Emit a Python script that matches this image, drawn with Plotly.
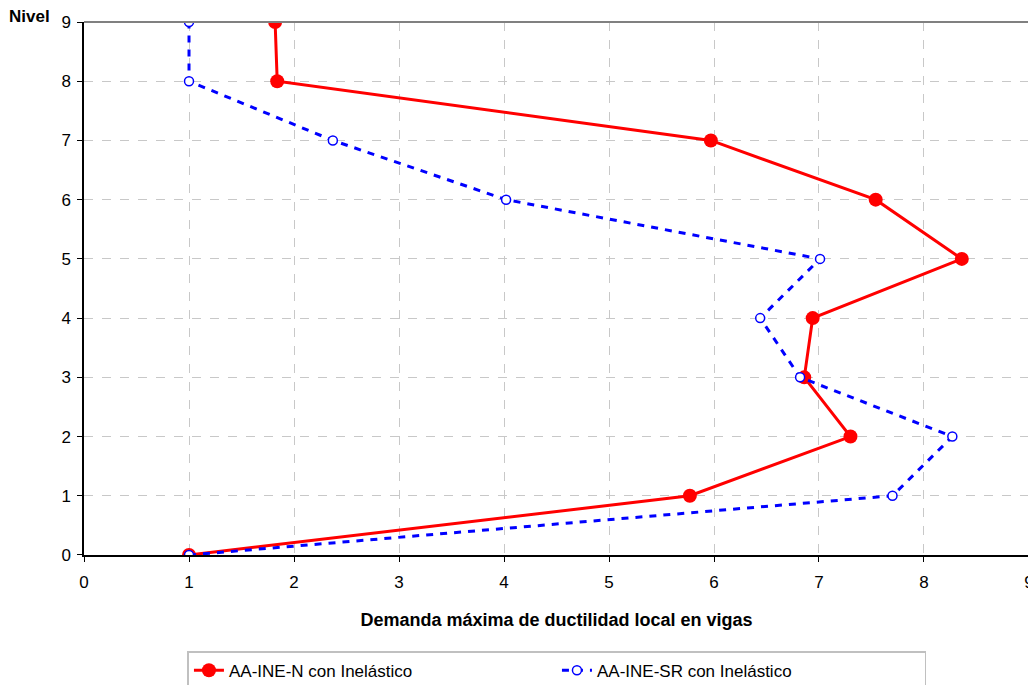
import plotly.graph_objects as go

niveles = [0, 1, 2, 3, 4, 5, 6, 7, 8, 9]
ductilidad_n = [1.0, 5.77, 7.30, 6.86, 6.94, 8.36, 7.54, 5.97, 1.84, 1.82]
ductilidad_sr = [1.0, 7.70, 8.27, 6.82, 6.44, 7.01, 4.02, 2.37, 1.0, 1.0]

fig = go.Figure()

fig.add_trace(go.Scatter(
    x=ductilidad_n, y=niveles, mode="lines+markers",
    name="AA-INE-N con Inelástico",
    line=dict(color="#ff0000", width=3),
    marker=dict(color="#ff0000", size=14, symbol="circle"),
))

fig.add_trace(go.Scatter(
    x=ductilidad_sr, y=niveles, mode="lines+markers",
    name="AA-INE-SR con Inelástico",
    line=dict(color="#0000ff", width=3, dash="7px,7px"),
    marker=dict(color="white", size=9, symbol="circle",
                line=dict(color="#0000ff", width=1.5)),
))

fam = "Liberation Sans, Arial"
font = dict(family=fam, size=17, color="black")

axis_common = dict(
    range=[-0.0001, 9.0001], dtick=1, showgrid=True,
    gridcolor="#c8c8c8", griddash="dash", gridwidth=1,
    ticks="outside", ticklen=5, tickcolor="black",
    tickfont=font, automargin=False, ticklabeloverflow="allow",
    zeroline=False, showline=True, linecolor="black", linewidth=1.5,
)

fig.update_xaxes(**axis_common, ticklabelstandoff=6,
                 title=dict(text="<b>Demanda máxima de ductilidad local en vigas</b>",
                            font=dict(family=fam, size=18, color="black"), standoff=22))
fig.update_yaxes(**axis_common, ticklabelstandoff=3)

# grey frame on top and right of the plot area
fig.add_shape(type="line", xref="paper", yref="paper", x0=0, x1=1, y0=1, y1=1,
              line=dict(color="#808080", width=2))
fig.add_shape(type="line", xref="paper", yref="paper", x0=1, x1=1, y0=0, y1=1,
              line=dict(color="#a0a0a0", width=2))

fig.add_annotation(text="<b>Nivel</b>", xref="paper", yref="paper",
                   x=-0.034, y=1.011, xanchor="right", yanchor="middle",
                   showarrow=False, font=dict(family=fam, size=17, color="black"))

# the page adds an 8px body margin, so the figure is made 8px smaller
fig.update_layout(
    width=1028, height=677,
    margin=dict(l=76, r=7, t=14, b=130),
    plot_bgcolor="white", paper_bgcolor="white",
    font=font,
    legend=dict(orientation="h", xref="container", yref="container",
                x=0.534, xanchor="center", y=0.05, yanchor="top",
                bordercolor="#c0c0c0", borderwidth=1.5, entrywidth=323,
                font=font),
)

fig.write_html("out.html")
